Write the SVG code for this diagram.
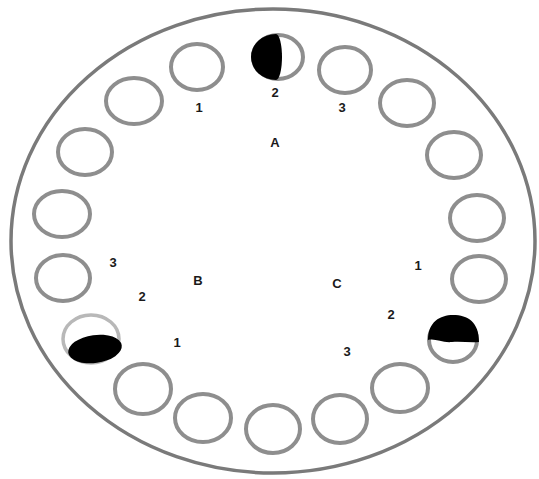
<svg xmlns="http://www.w3.org/2000/svg" width="539" height="479" viewBox="0 0 539 479">
<style>
.outer{fill:none;stroke:#7a7a7a;stroke-width:3.5}
.ring{fill:none;stroke:#8e8e8e;stroke-width:4}
.faint{fill:none;stroke:#b8b8b8;stroke-width:3.5}
.blk{fill:#000}
.lbl{font-family:"Liberation Sans",Arial,sans-serif;font-size:13px;font-weight:bold;fill:#1a1a1a;text-anchor:middle}
</style>
<rect width="539" height="479" fill="#fff"/>
<g id="dish">
<ellipse class="outer" cx="273" cy="241" rx="262" ry="232"/>
</g>
<g id="wells">
<g id="w1"><ellipse class="ring" cx="197" cy="67" rx="26" ry="23"/></g>
<g id="w2">
<ellipse class="ring" cx="278" cy="57" rx="25" ry="22"/>
<path class="blk" d="M276,34 A25,23 0 0 0 276,80 A6,23 0 0 0 276,34 Z"/>
</g>
<g id="w3"><ellipse class="ring" cx="345" cy="70" rx="26" ry="23"/></g>
<g id="w4"><ellipse class="ring" cx="407" cy="103" rx="27" ry="23"/></g>
<g id="w5"><ellipse class="ring" cx="454" cy="155" rx="27" ry="23"/></g>
<g id="w6"><ellipse class="ring" cx="477" cy="218" rx="27" ry="23"/></g>
<g id="w7"><ellipse class="ring" cx="479" cy="279" rx="27" ry="23"/></g>
<g id="w8">
<ellipse class="ring" cx="453" cy="340" rx="24" ry="22"/>
<path class="blk" d="M428,340 C428,322 440,315 453,315 C468,315 479,322 479,342 C470,343 461,341 452,342 C442,343 435,338 428,340 Z"/>
</g>
<g id="w9"><ellipse class="ring" cx="400" cy="388" rx="28" ry="24"/></g>
<g id="w10"><ellipse class="ring" cx="340" cy="419" rx="27" ry="24"/></g>
<g id="w11"><ellipse class="ring" cx="273" cy="429" rx="27" ry="24"/></g>
<g id="w12"><ellipse class="ring" cx="203" cy="418" rx="28" ry="24"/></g>
<g id="w13"><ellipse class="ring" cx="143" cy="389" rx="28" ry="25"/></g>
<g id="w14">
<ellipse class="faint" cx="91" cy="339" rx="28" ry="24"/>
<ellipse class="blk" cx="95" cy="349" rx="27" ry="14" transform="rotate(-8 95 349)"/>
</g>
<g id="w15"><ellipse class="ring" cx="63" cy="278" rx="27" ry="23"/></g>
<g id="w16"><ellipse class="ring" cx="62" cy="214" rx="28" ry="23"/></g>
<g id="w17"><ellipse class="ring" cx="85" cy="152" rx="27" ry="23"/></g>
<g id="w18"><ellipse class="ring" cx="134" cy="101" rx="28" ry="23"/></g>
</g>
<g id="labels">
<text class="lbl" x="199" y="112">1</text>
<text class="lbl" x="275" y="97">2</text>
<text class="lbl" x="342" y="112">3</text>
<text class="lbl" x="275" y="147">A</text>
<text class="lbl" x="113" y="267">3</text>
<text class="lbl" x="142" y="301">2</text>
<text class="lbl" x="198" y="285">B</text>
<text class="lbl" x="177" y="347">1</text>
<text class="lbl" x="337" y="288">C</text>
<text class="lbl" x="418" y="270">1</text>
<text class="lbl" x="391" y="319">2</text>
<text class="lbl" x="347" y="356">3</text>
</g>
</svg>
